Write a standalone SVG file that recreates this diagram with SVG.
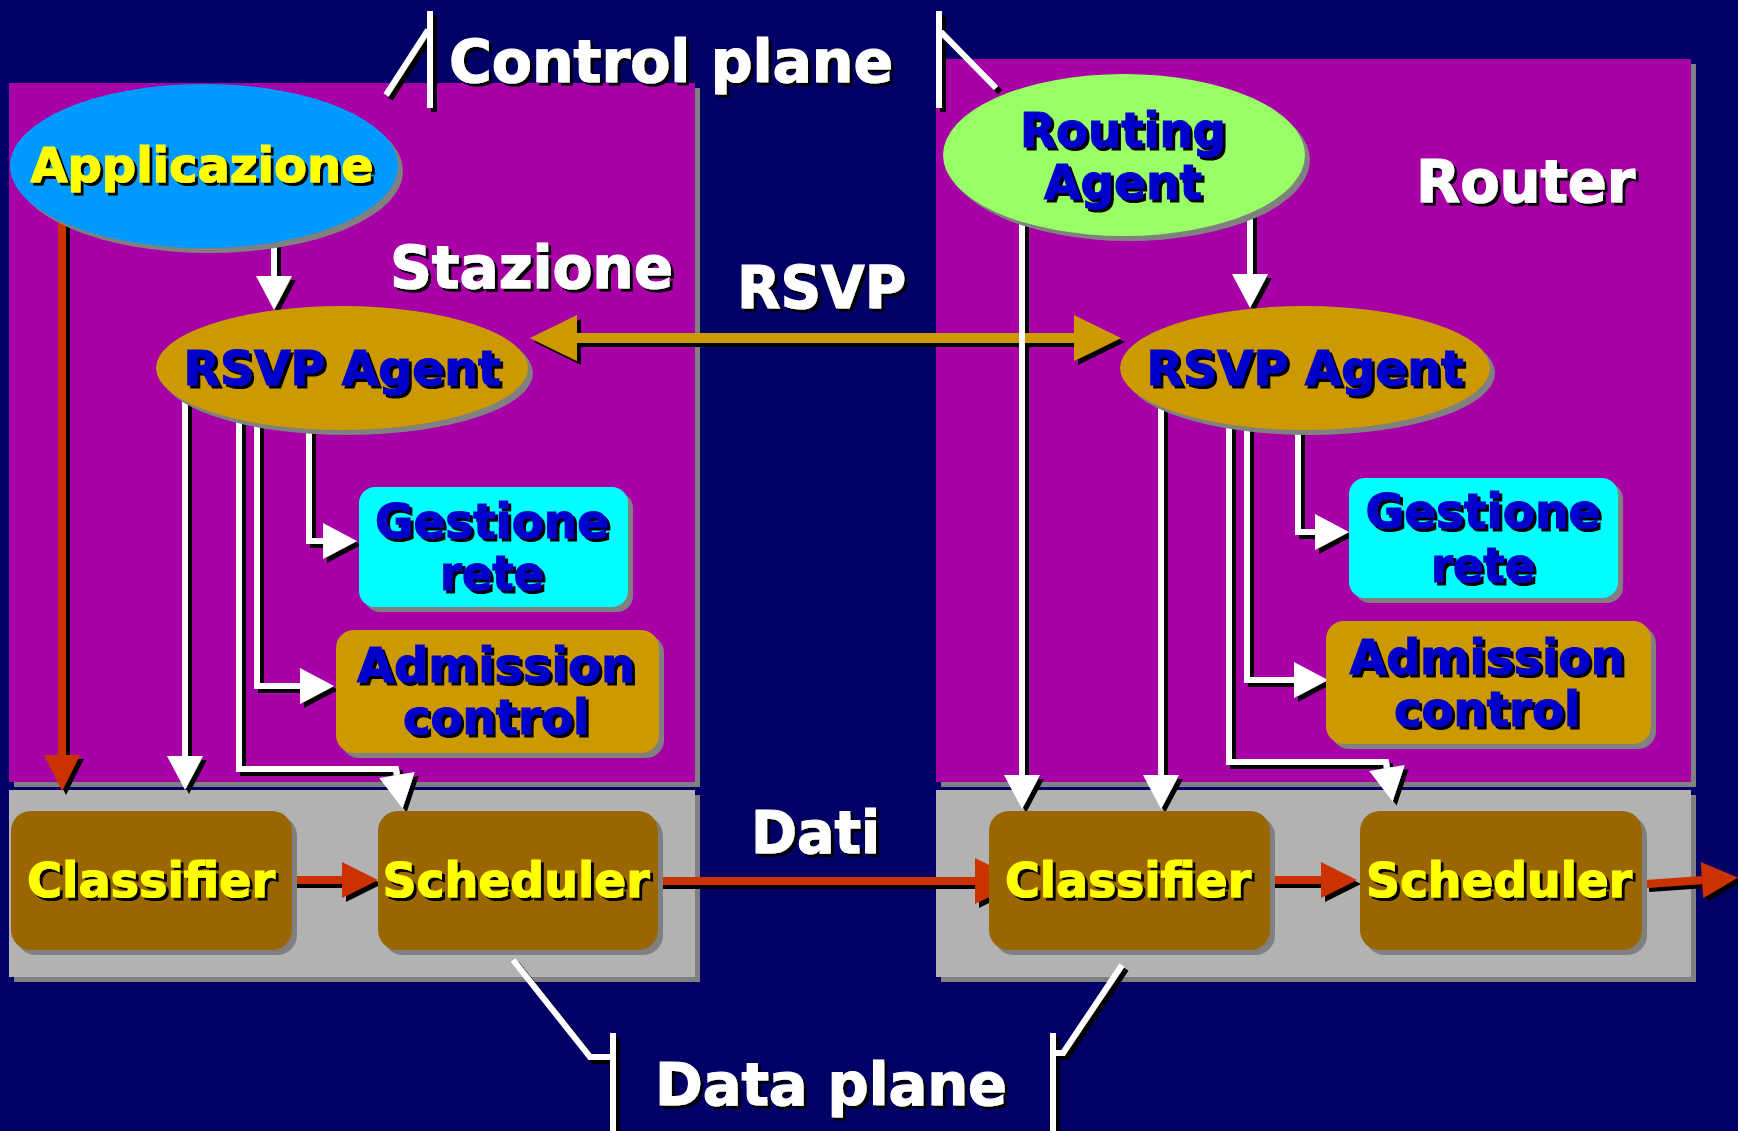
<svg xmlns="http://www.w3.org/2000/svg" width="1738" height="1131" viewBox="0 0 1738 1131">
<defs>
<style>
text{font-family:"DejaVu Sans","Verdana",sans-serif;font-weight:bold;stroke-width:1.2px;}
.big{font-size:58px;fill:#fff;stroke:#fff;}
.lbl{font-size:48px;}
.ylw{fill:#ffff00;stroke:#ffff00;}
.blu{fill:#0000cc;stroke:#0000cc;}
.shd{fill:#808080;}
.wl{fill:none;stroke:#fff;stroke-width:6;}
.rl{fill:none;stroke:#cc3300;stroke-width:8;}
.gl{fill:none;stroke:#cc9900;stroke-width:10;}
.br{fill:none;stroke:#fff;stroke-width:6;}
</style>
<filter id="ts" x="-5%" y="-10%" width="115%" height="130%">
<feOffset in="SourceAlpha" dx="3" dy="3" result="o"/>
<feMerge><feMergeNode in="o"/><feMergeNode in="SourceGraphic"/></feMerge>
</filter>
<filter id="ls" filterUnits="userSpaceOnUse" x="0" y="0" width="1738" height="1131">
<feOffset in="SourceAlpha" dx="4" dy="4" result="o"/>
<feMerge><feMergeNode in="o"/><feMergeNode in="SourceGraphic"/></feMerge>
</filter>
<marker id="aw" markerUnits="userSpaceOnUse" markerWidth="36" markerHeight="36" refX="0" refY="18" orient="auto" overflow="visible">
<path d="M0,0 L34,18 L0,36 z" fill="#fff"/>
</marker>
<marker id="ar" markerUnits="userSpaceOnUse" markerWidth="36" markerHeight="36" refX="0" refY="18" orient="auto" overflow="visible">
<path d="M0,0 L36,18 L0,36 z" fill="#cc3300"/>
</marker>
<marker id="arb" markerUnits="userSpaceOnUse" markerWidth="46" markerHeight="46" refX="0" refY="23" orient="auto" overflow="visible">
<path d="M0,0 L46,23 L0,46 z" fill="#cc3300"/>
</marker>
<marker id="ag" markerUnits="userSpaceOnUse" markerWidth="47" markerHeight="46" refX="0" refY="23" orient="auto-start-reverse" overflow="visible">
<path d="M0,0 L47,23 L0,46 z" fill="#cc9900"/>
</marker>
</defs>
<rect width="1738" height="1131" fill="#000066"/>

<!-- containers -->
<g id="stazione-control">
<rect x="14" y="88" width="686" height="699" fill="#808080"/>
<rect x="9" y="83" width="686" height="699" fill="#a600a6"/>
</g>
<g id="stazione-data">
<rect x="14" y="795" width="686" height="187" fill="#808080"/>
<rect x="9" y="790" width="686" height="187" fill="#b2b2b2"/>
</g>
<g id="router-control">
<rect x="941" y="64" width="755" height="723" fill="#808080"/>
<rect x="936" y="59" width="755" height="723" fill="#a600a6"/>
</g>
<g id="router-data">
<rect x="941" y="795" width="755" height="187" fill="#808080"/>
<rect x="936" y="790" width="755" height="187" fill="#b2b2b2"/>
</g>

<!-- labels -->
<g id="labels" filter="url(#ts)">
<text class="big" x="449" y="82" textLength="444" lengthAdjust="spacingAndGlyphs">Control plane</text>
<text class="big" x="390" y="288" textLength="283" lengthAdjust="spacingAndGlyphs">Stazione</text>
<text class="big" x="737" y="308" textLength="169" lengthAdjust="spacingAndGlyphs">RSVP</text>
<text class="big" x="1416" y="202" textLength="219" lengthAdjust="spacingAndGlyphs">Router</text>
<text class="big" x="751" y="853" textLength="129" lengthAdjust="spacingAndGlyphs">Dati</text>
<text class="big" x="655" y="1105" textLength="352" lengthAdjust="spacingAndGlyphs">Data plane</text>
</g>

<!-- connectors -->
<g id="connectors" filter="url(#ls)">
<path class="br" d="M428,30 L386,95"/>
<path class="br" d="M430,11 V108"/>
<path class="br" d="M939,11 V108"/>
<path class="br" d="M941,32 L996,88"/>
<path class="br" d="M513,960 L590,1057 H612"/>
<path class="br" d="M613,1033 V1131"/>
<path class="br" d="M1122,965 L1063,1053 H1052"/>
<path class="br" d="M1053,1033 V1131"/>

<path class="gl" d="M577,338 H1074" marker-start="url(#ag)" marker-end="url(#ag)"/>

<path class="rl" d="M62,215 V755" marker-end="url(#ar)"/>
<path class="wl" d="M274,235 V276" marker-end="url(#aw)"/>
<path class="wl" d="M185,395 V756" marker-end="url(#aw)"/>
<path class="wl" d="M239,410 V769 H396 L397,775" marker-end="url(#aw)"/>
<path class="wl" d="M257,415 V686 H300" marker-end="url(#aw)"/>
<path class="wl" d="M309,420 V541 H323" marker-end="url(#aw)"/>
<path class="rl" d="M292,880 H342" marker-end="url(#ar)"/>
<path class="rl" d="M658,881 H975" marker-end="url(#arb)"/>

<path class="wl" d="M1022,215 V775" marker-end="url(#aw)"/>
<path class="wl" d="M1250,205 V274" marker-end="url(#aw)"/>
<path class="wl" d="M1161,400 V775" marker-end="url(#aw)"/>
<path class="wl" d="M1229,415 V762 H1386 L1387,768" marker-end="url(#aw)"/>
<path class="wl" d="M1247,420 V680 H1294" marker-end="url(#aw)"/>
<path class="wl" d="M1298,425 V532 H1315" marker-end="url(#aw)"/>
<path class="rl" d="M1270,880 H1321" marker-end="url(#ar)"/>
<path class="rl" d="M1645,884 L1702,880" marker-end="url(#ar)"/>
</g>

<!-- nodes -->
<g id="applicazione">
<ellipse class="shd" cx="209" cy="171" rx="194" ry="82"/>
<ellipse cx="204" cy="166" rx="194" ry="82" fill="#0099ff"/>
<text class="lbl ylw" x="202" y="182" text-anchor="middle" textLength="343" lengthAdjust="spacingAndGlyphs" filter="url(#ts)">Applicazione</text>
</g>
<g id="rsvp-agent-stazione">
<ellipse class="shd" cx="347" cy="373" rx="186" ry="62"/>
<ellipse cx="342" cy="368" rx="186" ry="62" fill="#cc9900"/>
<text class="lbl blu" x="342" y="385" text-anchor="middle" textLength="317" lengthAdjust="spacingAndGlyphs" filter="url(#ts)">RSVP Agent</text>
</g>
<g id="gestione-rete-stazione">
<rect class="shd" x="364" y="492" width="269" height="120" rx="16"/>
<rect x="359" y="487" width="269" height="120" rx="16" fill="#00ffff"/>
<g filter="url(#ts)">
<text class="lbl blu" x="492" y="538" text-anchor="middle" textLength="234" lengthAdjust="spacingAndGlyphs">Gestione</text>
<text class="lbl blu" x="492" y="590" text-anchor="middle" textLength="104" lengthAdjust="spacingAndGlyphs">rete</text>
</g>
</g>
<g id="admission-control-stazione">
<rect class="shd" x="341" y="635" width="323" height="123" rx="18"/>
<rect x="336" y="630" width="323" height="123" rx="18" fill="#cc9900"/>
<g filter="url(#ts)">
<text class="lbl blu" x="496" y="682" text-anchor="middle" textLength="278" lengthAdjust="spacingAndGlyphs">Admission</text>
<text class="lbl blu" x="496" y="734" text-anchor="middle" textLength="186" lengthAdjust="spacingAndGlyphs">control</text>
</g>
</g>
<g id="classifier-stazione">
<rect class="shd" x="16" y="816" width="281" height="139" rx="20"/>
<rect x="11" y="811" width="281" height="139" rx="20" fill="#996600"/>
<text class="lbl ylw" x="151" y="897" text-anchor="middle" textLength="248" lengthAdjust="spacingAndGlyphs" filter="url(#ts)">Classifier</text>
</g>
<g id="scheduler-stazione">
<rect class="shd" x="383" y="816" width="280" height="139" rx="20"/>
<rect x="378" y="811" width="280" height="139" rx="20" fill="#996600"/>
<text class="lbl ylw" x="516" y="897" text-anchor="middle" textLength="267" lengthAdjust="spacingAndGlyphs" filter="url(#ts)">Scheduler</text>
</g>

<g id="routing-agent">
<ellipse class="shd" cx="1129" cy="160" rx="181" ry="81"/>
<ellipse cx="1124" cy="155" rx="181" ry="81" fill="#99ff66"/>
<g filter="url(#ts)">
<text class="lbl blu" x="1123" y="147" text-anchor="middle" textLength="206" lengthAdjust="spacingAndGlyphs">Routing</text>
<text class="lbl blu" x="1123" y="199" text-anchor="middle" textLength="158" lengthAdjust="spacingAndGlyphs">Agent</text>
</g>
</g>
<g id="rsvp-agent-router">
<ellipse class="shd" cx="1310" cy="373" rx="185" ry="62"/>
<ellipse cx="1305" cy="368" rx="185" ry="62" fill="#cc9900"/>
<text class="lbl blu" x="1305" y="385" text-anchor="middle" textLength="317" lengthAdjust="spacingAndGlyphs" filter="url(#ts)">RSVP Agent</text>
</g>
<g id="gestione-rete-router">
<rect class="shd" x="1354" y="483" width="269" height="120" rx="16"/>
<rect x="1349" y="478" width="269" height="120" rx="16" fill="#00ffff"/>
<g filter="url(#ts)">
<text class="lbl blu" x="1483" y="528" text-anchor="middle" textLength="235" lengthAdjust="spacingAndGlyphs">Gestione</text>
<text class="lbl blu" x="1483" y="582" text-anchor="middle" textLength="104" lengthAdjust="spacingAndGlyphs">rete</text>
</g>
</g>
<g id="admission-control-router">
<rect class="shd" x="1331" y="626" width="325" height="123" rx="18"/>
<rect x="1326" y="621" width="325" height="123" rx="18" fill="#cc9900"/>
<g filter="url(#ts)">
<text class="lbl blu" x="1487" y="674" text-anchor="middle" textLength="275" lengthAdjust="spacingAndGlyphs">Admission</text>
<text class="lbl blu" x="1487" y="726" text-anchor="middle" textLength="186" lengthAdjust="spacingAndGlyphs">control</text>
</g>
</g>
<g id="classifier-router">
<rect class="shd" x="994" y="816" width="281" height="139" rx="20"/>
<rect x="989" y="811" width="281" height="139" rx="20" fill="#996600"/>
<text class="lbl ylw" x="1128" y="897" text-anchor="middle" textLength="246" lengthAdjust="spacingAndGlyphs" filter="url(#ts)">Classifier</text>
</g>
<g id="scheduler-router">
<rect class="shd" x="1365" y="816" width="282" height="139" rx="20"/>
<rect x="1360" y="811" width="282" height="139" rx="20" fill="#996600"/>
<text class="lbl ylw" x="1499" y="897" text-anchor="middle" textLength="266" lengthAdjust="spacingAndGlyphs" filter="url(#ts)">Scheduler</text>
</g>
</svg>
